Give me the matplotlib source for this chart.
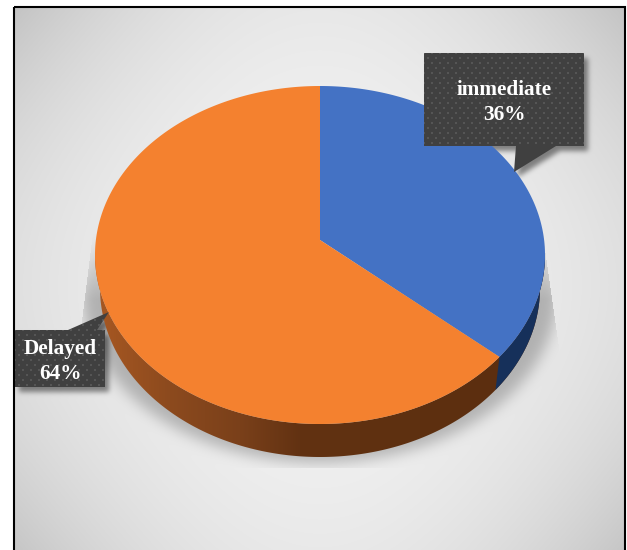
import numpy as np
import matplotlib
matplotlib.use("Agg")
import matplotlib.pyplot as plt
from matplotlib.path import Path
from matplotlib.patches import PathPatch, Polygon, Rectangle

# ---- DATA ----
labels = ["immediate", "Delayed"]
shares = [36, 64]

# ---- LAYOUT (pixels) ----
W, H = 627, 550
cx, cy = 320, 255
rx, ry = 225, 169
rx_low = 220  # lower rim of the wall is a little narrower
apex_y = 240
depth = 33
rim_skew = -2.5  # perspective pulls the first boundary back a little

top_color = {"immediate": "#4472C4", "Delayed": "#F4812F"}
box_color = "#404040"
dot_color = "#555555"

callouts = {
    "immediate": dict(box=(424, 53, 584, 146), base=(516, 556), tip=(514, 172), text=(504, 102.5)),
    "Delayed": dict(box=(15, 330, 105, 387), base=(68, 97), tip=(109, 312), text=(60, 361.5)),
}


def rim(deg, radius=rx, shift=0):
    # point on an ellipse, angle clockwise from 12 o'clock
    t = np.radians(deg)
    return cx + radius * np.sin(t), cy + shift - ry * np.cos(t)


def blur(img, sigma):
    n = int(sigma * 3)
    k = np.exp(-0.5 * (np.arange(-n, n + 1) / sigma) ** 2)
    k /= k.sum()
    out = np.apply_along_axis(lambda r: np.convolve(r, k, mode="same"), 0, img)
    return np.apply_along_axis(lambda r: np.convolve(r, k, mode="same"), 1, out)


def callout_points(c):
    x0, y0, x1, y1 = c["box"]
    b0, b1 = c["base"]
    if c["tip"][1] > y1:
        return [(x0, y0), (x1, y0), (x1, y1), (b1, y1), c["tip"], (b0, y1), (x0, y1)]
    return [(x0, y0), (b0, y0), c["tip"], (b1, y0), (x1, y0), (x1, y1), (x0, y1)]


fig = plt.figure(figsize=(W / 100, H / 100), dpi=100)
ax = fig.add_axes([0, 0, 1, 1])
ax.set_xlim(0, W)
ax.set_ylim(H, 0)
ax.axis("off")

# ---- BACKGROUND + SHADOWS ----
yy, xx = np.mgrid[0:H, 0:W] + 0.5
u = (xx - 320) / 305
v = (yy - 285) / 275
grey = 243 - 19 * u**2 - 11 * v**2 - 17 * (u * v) ** 2

# pie shadow: soft below the disc, hard outer edges on both flanks
sil = (((xx - cx) / (rx + 12)) ** 2 + ((yy - (cy + depth + 6)) / ry) ** 2 < 1).astype(float)
sil = blur(sil, 7)
fade = np.clip((yy - 230) / 70, 0, 1) * (yy < 468)
left_edge = 93 - (yy - 233) * 10 / 80
right_edge = 548 + (yy - 270) * 10 / 70
fade = fade * (xx > left_edge) * (xx < right_edge)
grey = grey * (1 - 0.24 * sil * fade)

# callout shadows
pts = np.column_stack([xx.ravel(), yy.ravel()])
for c in callouts.values():
    poly = np.array(callout_points(c), dtype=float) + [4, 5]
    m = Path(poly).contains_points(pts).reshape(H, W).astype(float)
    grey = grey * (1 - 0.45 * blur(m, 2.5))

rgb = np.repeat(grey[:, :, None], 3, axis=2) / 255
ax.imshow(rgb, extent=(0, W, H, 0), zorder=0, aspect="auto", interpolation="bilinear")

# ---- SIDE WALL ----
split = 360 * shares[0] / sum(shares) + rim_skew
arc = np.linspace(90, 270, 400)
up = np.array([rim(a) for a in arc])
low = np.array([rim(a, rx_low, depth) for a in arc])
wall = np.vstack([up, low[::-1]])
wall_path = Path(np.vstack([wall, wall[0]]), closed=True)

# left-to-right shading of the orange wall
wall_x = [95, 170, 240, 300, 420, 500]
wall_r = [168, 140, 122, 98, 94, 92]
wall_g = [88, 74, 64, 50, 48, 46]
wall_b = [34, 30, 26, 18, 16, 15]
xs = np.arange(W) + 0.5
grad = np.stack([np.interp(xs, wall_x, wall_r), np.interp(xs, wall_x, wall_g), np.interp(xs, wall_x, wall_b)], axis=1) / 255
im = ax.imshow(grad[None, :, :], extent=(0, W, H, 0), zorder=2, aspect="auto")
im.set_clip_path(PathPatch(wall_path, transform=ax.transData))

# blue part of the wall, right of the split
arc_b = np.linspace(90, split, 120)
b_up = np.array([rim(a) for a in arc_b])
b_low = np.array([rim(a, rx_low, depth) for a in arc_b])
ax.add_patch(Polygon(np.vstack([b_up, b_low[::-1]]), closed=True, fc="#16305A", ec="none", zorder=3))

# ---- TOP FACE ----
apex = (cx, apex_y)
arc1 = np.array([rim(a) for a in np.linspace(0, split, 200)])
arc2 = np.array([rim(a) for a in np.linspace(split, 360, 400)])
ax.add_patch(Polygon(np.vstack([[apex], arc1]), closed=True, fc=top_color["immediate"], ec="none", zorder=4))
ax.add_patch(Polygon(np.vstack([[apex], arc2]), closed=True, fc=top_color["Delayed"], ec="none", zorder=4))

# ---- CALLOUTS ----
for name, share in zip(labels, shares):
    c = callouts[name]
    box = Polygon(callout_points(c), closed=True, fc=box_color, ec="none", zorder=5)
    ax.add_patch(box)
    x0, y0, x1, y1 = c["box"]
    # dotted fill texture, staggered rows
    dx, dy = [], []
    for i, row in enumerate(np.arange(y0 - 40, y1 + 2, 5.0)):
        col = np.arange(x0 - 40 + (i % 2) * 4, x1 + 2, 8.0)
        dx.extend(col)
        dy.extend([row] * len(col))
    dots = ax.scatter(dx, dy, s=1.8, marker="s", c=dot_color, linewidths=0, zorder=6)
    dots.set_clip_path(box)
    tx, ty = c["text"]
    ax.text(tx, ty, f"{name}\n{share}%", color="white", ha="center", va="center",
            family="Liberation Serif", weight="bold", fontsize=15.3, linespacing=1.32, zorder=7)

# ---- FRAME ----
ax.add_patch(Rectangle((0, 0), 14, H, fc="white", ec="none", zorder=8))
ax.add_patch(Rectangle((0, 0), W, 6, fc="white", ec="none", zorder=8))
ax.add_patch(Rectangle((625, 0), 2, H, fc="white", ec="none", zorder=8))
ax.add_patch(Rectangle((14, 6.5), 611, H, fc="none", ec="black", lw=1.5, zorder=9))

fig.savefig("out.png", dpi=100)
